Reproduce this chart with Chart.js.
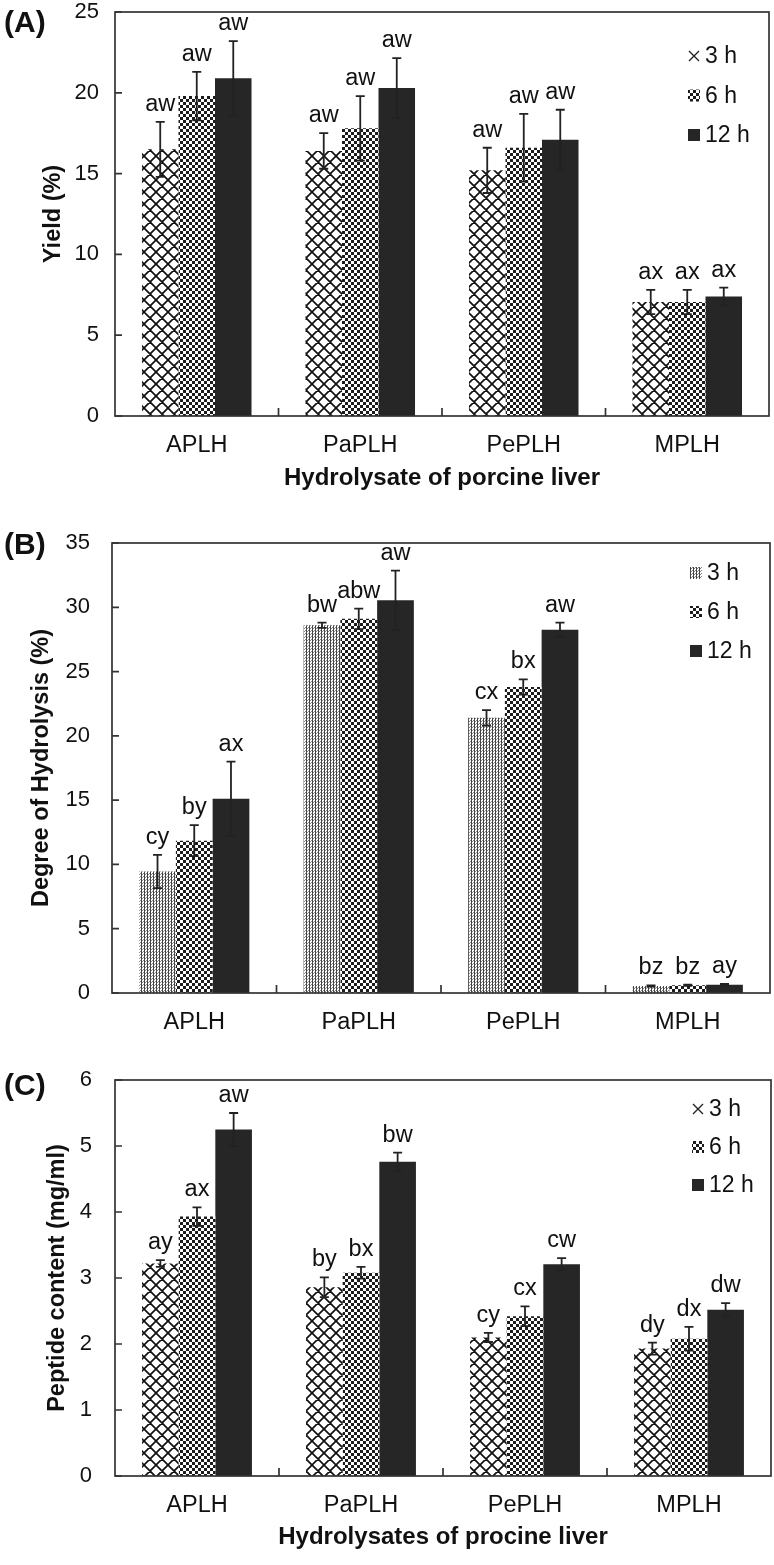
<!DOCTYPE html>
<html>
<head>
<meta charset="utf-8">
<script src="https://cdn.jsdelivr.net/npm/chart.js@4.4.1/dist/chart.umd.min.js"></script>
<style>
  html, body { margin: 0; padding: 0; background: #fff; }
  body { width: 774px; height: 1565px; position: relative; overflow: hidden; }
  canvas { position: absolute; left: 0; }
</style>
</head>
<body>
<canvas id="chartA" width="774" height="500" style="top:0"></canvas>
<canvas id="chartB" width="774" height="545" style="top:500px"></canvas>
<canvas id="chartC" width="774" height="520" style="top:1045px"></canvas>
<script>
const categories = ['APLH', 'PaPLH', 'PePLH', 'MPLH'];
const seriesLabels = ['3 h', '6 h', '12 h'];

// (A) yield, %
const yieldTicks = [0, 5, 10, 15, 20, 25];
const yield3h = [16.5, 16.4, 15.2, 7.05];
const yield6h = [19.8, 17.8, 16.6, 7.05];
const yield12h = [20.9, 20.3, 17.1, 7.4];
const yield3hErr = [1.7, 1.1, 1.4, 0.75];
const yield6hErr = [1.5, 2.0, 2.1, 0.75];
const yield12hErr = [2.3, 1.85, 1.85, 0.55];
const yield3hLetters = ['aw', 'aw', 'aw', 'ax'];
const yield6hLetters = ['aw', 'aw', 'aw', 'ax'];
const yield12hLetters = ['aw', 'aw', 'aw', 'ax'];

// (B) degree of hydrolysis, %
const dhTicks = [0, 5, 10, 15, 20, 25, 30, 35];
const dh3h = [9.45, 28.6, 21.4, 0.55];
const dh6h = [11.85, 29.1, 23.8, 0.6];
const dh12h = [15.1, 30.55, 28.25, 0.65];
const dh3hErr = [1.3, 0.2, 0.6, 0.05];
const dh6hErr = [1.2, 0.8, 0.6, 0.05];
const dh12hErr = [2.9, 2.3, 0.55, 0.05];
const dh3hLetters = ['cy', 'bw', 'cx', 'bz'];
const dh6hLetters = ['by', 'abw', 'bx', 'bz'];
const dh12hLetters = ['ax', 'aw', 'aw', 'ay'];

// (C) peptide content, mg/ml
const peptideTicks = [0, 1, 2, 3, 4, 5, 6];
const peptide3h = [3.22, 2.86, 2.1, 1.93];
const peptide6h = [3.93, 3.08, 2.42, 2.08];
const peptide12h = [5.25, 4.76, 3.21, 2.52];
const peptide3hErr = [0.05, 0.15, 0.07, 0.09];
const peptide6hErr = [0.14, 0.09, 0.15, 0.18];
const peptide12hErr = [0.25, 0.14, 0.09, 0.1];
const peptide3hLetters = ['ay', 'by', 'cy', 'dy'];
const peptide6hLetters = ['ax', 'bx', 'cx', 'dx'];
const peptide12hLetters = ['aw', 'bw', 'cw', 'dw'];

const FONT = '"Liberation Sans", Arial, sans-serif';
Chart.defaults.font.family = FONT;
Chart.defaults.color = '#111';

// --- fill patterns ---
function makePattern(kind) {
  const c = document.createElement('canvas');
  const g = c.getContext('2d');
  if (kind === 'cross') {
    c.width = 12; c.height = 12;
    g.fillStyle = '#fff'; g.fillRect(0, 0, 12, 12);
    g.strokeStyle = '#111'; g.lineWidth = 1.7;
    g.beginPath();
    [-12, 0, 12].forEach(d => {
      g.moveTo(d - 1, -1); g.lineTo(d + 13, 13);
      g.moveTo(d + 13, -1); g.lineTo(d - 1, 13);
    });
    g.stroke();
  } else if (kind === 'checker') {
    c.width = 6; c.height = 6;
    g.fillStyle = '#1c1c1c'; g.fillRect(0, 0, 6, 6);
    g.fillStyle = '#fff'; g.fillRect(0, 0, 3, 3); g.fillRect(3, 3, 3, 3);
  } else {
    c.width = 3; c.height = 3;
    g.fillStyle = '#fff'; g.fillRect(0, 0, 3, 3);
    g.fillStyle = '#444'; g.fillRect(0, 0, 1, 3);
    g.fillStyle = '#888'; g.fillRect(2, 1, 1, 1); g.fillRect(1, 2, 1, 1);
  }
  return g.createPattern(c, 'repeat');
}
const crossFill = makePattern('cross');
const checkerFill = makePattern('checker');
const dotFill = makePattern('dots');
const solidFill = '#262626';

// --- error bars + letters ---
const errorBars = {
  id: 'errorBars',
  afterDatasetsDraw(chart) {
    const { ctx, scales: { y } } = chart;
    ctx.save();
    chart.data.datasets.forEach((ds, di) => {
      chart.getDatasetMeta(di).data.forEach((bar, i) => {
        const v = ds.data[i], e = ds.errors[i];
        const yt = y.getPixelForValue(v + e), yb = y.getPixelForValue(v - e);
        ctx.strokeStyle = '#222'; ctx.lineWidth = 1.8;
        ctx.beginPath();
        ctx.moveTo(bar.x, yt); ctx.lineTo(bar.x, yb);
        ctx.moveTo(bar.x - 4.5, yt); ctx.lineTo(bar.x + 4.5, yt);
        ctx.moveTo(bar.x - 4.5, yb); ctx.lineTo(bar.x + 4.5, yb);
        ctx.stroke();
        ctx.fillStyle = '#111';
        ctx.font = '23.5px ' + FONT;
        ctx.textAlign = 'center'; ctx.textBaseline = 'alphabetic';
        ctx.fillText(ds.letters[i], bar.x, yt - 11);
      });
    });
    ctx.restore();
  }
};

// --- box frame, inward ticks, legend, panel tag ---
const frame = {
  id: 'frame',
  afterDraw(chart, args, opts) {
    const { ctx, chartArea: a, scales: { x, y } } = chart;
    ctx.save();
    ctx.strokeStyle = '#333'; ctx.lineWidth = 1.7;
    ctx.strokeRect(a.left, a.top, a.right - a.left, a.bottom - a.top);
    ctx.beginPath();
    y.ticks.forEach(t => {
      const py = y.getPixelForValue(t.value);
      ctx.moveTo(a.left, py); ctx.lineTo(a.left + 7, py);
    });
    for (let i = 0; i < categories.length - 1; i++) {
      const px = (x.getPixelForValue(i) + x.getPixelForValue(i + 1)) / 2;
      ctx.moveTo(px, a.bottom); ctx.lineTo(px, a.bottom - 8);
    }
    ctx.stroke();

    // legend
    const lg = opts.legend;
    ctx.font = '23px ' + FONT;
    ctx.textAlign = 'left'; ctx.textBaseline = 'middle';
    chart.data.datasets.forEach((ds, i) => {
      const cy = a.top + lg.top + i * lg.gap;
      if (ds.legendMark === 'x') {
        ctx.strokeStyle = '#222'; ctx.lineWidth = 1.4;
        ctx.beginPath();
        ctx.moveTo(lg.x + 1, cy - 5); ctx.lineTo(lg.x + 11, cy + 5);
        ctx.moveTo(lg.x + 11, cy - 5); ctx.lineTo(lg.x + 1, cy + 5);
        ctx.stroke();
      } else {
        ctx.fillStyle = ds.backgroundColor;
        ctx.fillRect(lg.x, cy - 6, 12, 12);
      }
      ctx.fillStyle = '#111';
      ctx.fillText(ds.label, lg.x + 17, cy + 1);
    });

    // panel tag
    ctx.font = 'bold 30px ' + FONT;
    ctx.textBaseline = 'middle';
    ctx.fillText(opts.tag, 4, opts.tagY);
    ctx.restore();
  }
};

function makeDatasets(values, errors, letters, firstFill, firstMark) {
  const fills = [firstFill, checkerFill, solidFill];
  return seriesLabels.map((label, i) => ({
    label,
    data: values[i],
    errors: errors[i],
    letters: letters[i],
    backgroundColor: fills[i],
    legendMark: i === 0 ? firstMark : 'box',
    borderWidth: 0,
    categoryPercentage: 0.67,
    barPercentage: 1.0
  }));
}

function noPad(s) {
  s.paddingTop = 0; s.paddingBottom = 0; s.paddingLeft = 0; s.paddingRight = 0;
}

function panelOptions(cfg) {
  return {
    responsive: false,
    animation: false,
    layout: { padding: { left: 0, right: cfg.padRight, top: cfg.padTop, bottom: 0 } },
    plugins: {
      legend: { display: false },
      tooltip: { enabled: false },
      frame: { legend: cfg.legend, tag: cfg.tag, tagY: cfg.tagY }
    },
    scales: {
      x: {
        grid: { display: false, drawTicks: false },
        border: { display: false },
        ticks: { padding: 15, maxRotation: 0, color: '#111', font: { size: 23.5 } },
        title: {
          display: !!cfg.xTitle, text: cfg.xTitle, color: '#111',
          font: { size: 24, weight: 'bold' }, padding: { top: 0, bottom: cfg.xTitlePad }
        },
        afterFit: s => { s.height = cfg.xHeight; noPad(s); }
      },
      y: {
        min: 0, max: cfg.ticks[cfg.ticks.length - 1],
        grid: { display: false, drawTicks: false },
        border: { display: false },
        ticks: { padding: cfg.yPad, color: '#111', font: { size: 22 } },
        afterBuildTicks: s => { s.ticks = cfg.ticks.map(v => ({ value: v })); },
        title: {
          display: true, text: cfg.yTitle, color: '#111',
          font: { size: 23.5, weight: 'bold' }, padding: { top: cfg.yTitlePad, bottom: 0 }
        },
        afterFit: s => { s.width = cfg.yWidth; noPad(s); }
      }
    }
  };
}

// --- (A) ---
new Chart(document.getElementById('chartA'), {
  type: 'bar',
  data: {
    labels: categories,
    datasets: makeDatasets(
      [yield3h, yield6h, yield12h],
      [yield3hErr, yield6hErr, yield12hErr],
      [yield3hLetters, yield6hLetters, yield12hLetters],
      crossFill, 'x')
  },
  options: panelOptions({
    padTop: 12, padRight: 5, yWidth: 115, xHeight: 84, yPad: 16,
    ticks: yieldTicks, yTitle: 'Yield (%)', yTitlePad: 39,
    xTitle: 'Hydrolysate of porcine liver', xTitlePad: 7,
    legend: { x: 688, top: 44, gap: 39.5 }, tag: '(A)', tagY: 24
  }),
  plugins: [errorBars, frame]
});

// --- (B) ---
new Chart(document.getElementById('chartB'), {
  type: 'bar',
  data: {
    labels: categories,
    datasets: makeDatasets(
      [dh3h, dh6h, dh12h],
      [dh3hErr, dh6hErr, dh12hErr],
      [dh3hLetters, dh6hLetters, dh12hLetters],
      dotFill, 'box')
  },
  options: panelOptions({
    padTop: 43, padRight: 4, yWidth: 112, xHeight: 52, yPad: 22,
    ticks: dhTicks, yTitle: 'Degree of Hydrolysis (%)', yTitlePad: 27,
    xTitle: '', xTitlePad: 0,
    legend: { x: 690, top: 30, gap: 39 }, tag: '(B)', tagY: 46
  }),
  plugins: [errorBars, frame]
});

// --- (C) ---
new Chart(document.getElementById('chartC'), {
  type: 'bar',
  data: {
    labels: categories,
    datasets: makeDatasets(
      [peptide3h, peptide6h, peptide12h],
      [peptide3hErr, peptide6hErr, peptide12hErr],
      [peptide3hLetters, peptide6hLetters, peptide12hLetters],
      crossFill, 'x')
  },
  options: panelOptions({
    padTop: 35, padRight: 3, yWidth: 115, xHeight: 89, yPad: 23,
    ticks: peptideTicks, yTitle: 'Peptide content (mg/ml)', yTitlePad: 43,
    xTitle: 'Hydrolysates of procine liver', xTitlePad: 13,
    legend: { x: 692, top: 29, gap: 38 }, tag: '(C)', tagY: 42
  }),
  plugins: [errorBars, frame]
});
</script>
</body>
</html>
